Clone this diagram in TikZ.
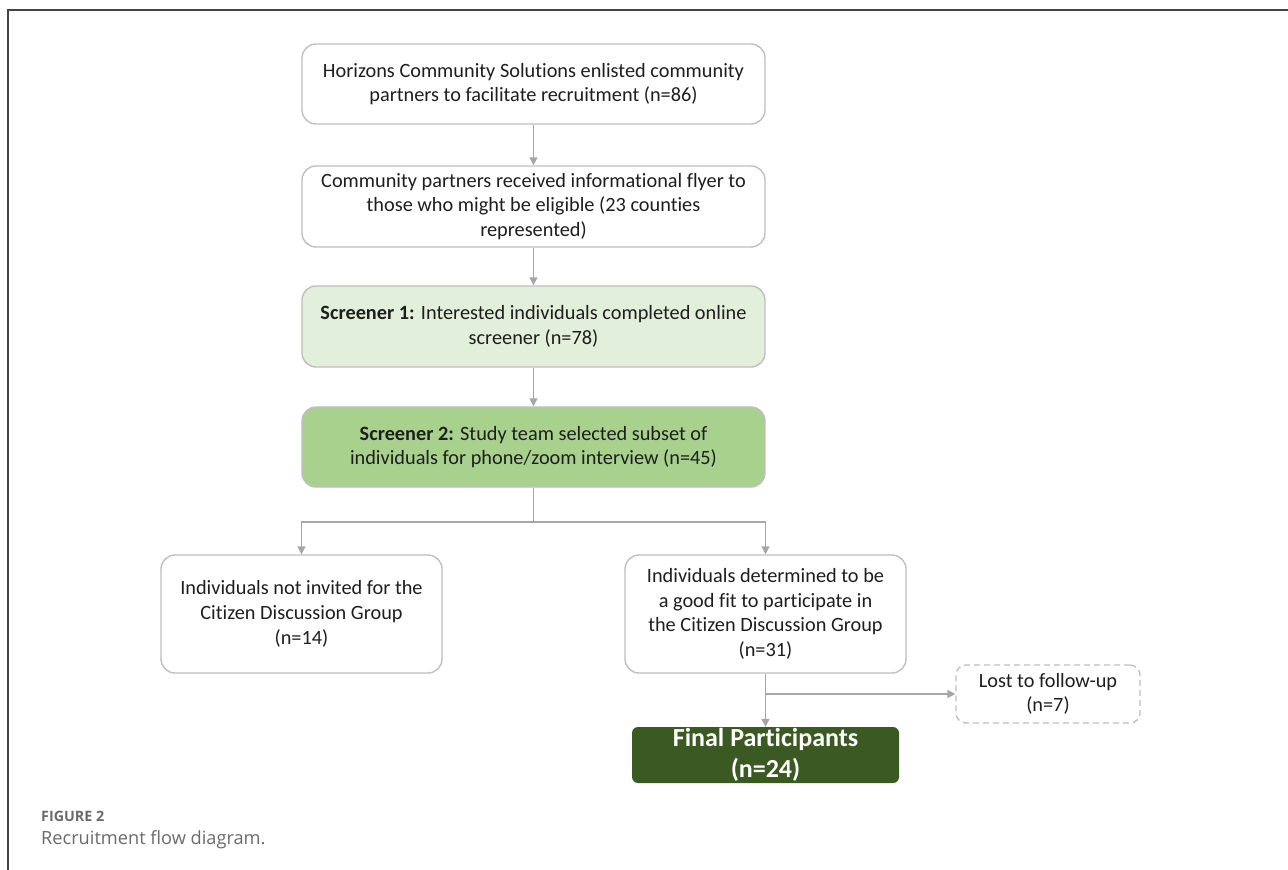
\documentclass[tikz,border=0pt]{standalone}
\usepackage{fontspec}
\setmainfont{Carlito}[Ligatures=NoCommon]
\newfontfamily\capfont{Open Sans}
\usetikzlibrary{arrows.meta}
\definecolor{boxline}{HTML}{BFBFBF}
\definecolor{arrowgray}{HTML}{A6A6A6}
\definecolor{lightgreen}{HTML}{E2EFDA}
\definecolor{midgreen}{HTML}{A9D18E}
\definecolor{darkgreen}{HTML}{3A5A22}
\definecolor{textdark}{HTML}{1E1E1E}
\definecolor{framegray}{HTML}{444444}
\definecolor{capgray}{HTML}{6A6A6A}
\tikzset{
  flowbox/.style={draw=boxline, line width=1.4pt, rounded corners=14pt, align=center,
    inner sep=0pt, text=textdark, font=\fontsize{20.3}{24.7}\selectfont},
  lostbox/.style={flowbox, dashed, dash pattern=on 6pt off 4pt, rounded corners=10pt},
  finalbox/.style={fill=darkgreen, draw=none, rounded corners=6pt, align=center, inner sep=0pt,
    text=white, font=\fontsize{26}{31}\selectfont\bfseries},
  flowarrow/.style={draw=arrowgray, line width=1.4pt, -{Triangle[width=8pt,length=8pt]}},
}
\begin{document}
\begin{tikzpicture}[x=1pt,y=-1pt]
\useasboundingbox (0,0) rectangle (1288,870);
% frame
\draw[framegray, line width=1.6pt] (1288,10) -- (8,10) -- (8,870);
% boxes
\node[flowbox, minimum width=463pt, minimum height=80pt] (b1) at (533.5,84)
  {Horizons Community Solutions enlisted community\\partners to facilitate recruitment (n=86)};
\node[flowbox, minimum width=463pt, minimum height=81pt] (b2) at (533.5,206.5)
  {Community partners received informational flyer to\\those who might be eligible (23 counties\\represented)};
\node[flowbox, fill=lightgreen, minimum width=463pt, minimum height=81pt] (b3) at (533.5,326.5)
  {\textbf{Screener 1:} Interested individuals completed online\\screener (n=78)};
\node[flowbox, fill=midgreen, minimum width=463pt, minimum height=80pt] (b4) at (533.5,447)
  {\textbf{Screener 2:} Study team selected subset of\\individuals for phone/zoom interview (n=45)};
\node[flowbox, minimum width=281pt, minimum height=118pt] (left) at (301.5,614)
  {Individuals not invited for the\\Citizen Discussion Group\\(n=14)};
\node[flowbox, minimum width=281pt, minimum height=118pt] (right) at (765.5,614)
  {Individuals determined to be\\a good fit to participate in\\the Citizen Discussion Group\\(n=31)};
\node[lostbox, minimum width=184pt, minimum height=58pt] (lost) at (1048,694)
  {Lost to follow-up\\(n=7)};
\node[finalbox, minimum width=267pt, minimum height=56pt] (final) at (765.5,755)
  {Final Participants\\(n=24)};
% connectors
\coordinate (split) at (533.5,522);
\coordinate (drop) at (765.5,694);
\draw[flowarrow] (b1.south) -- (b2.north);
\draw[flowarrow] (b2.south) -- (b3.north);
\draw[flowarrow] (b3.south) -- (b4.north);
\draw[draw=arrowgray, line width=1.4pt] (b4.south) -- (split);
\draw[flowarrow] (split) -| (left.north);
\draw[flowarrow] (split) -| (right.north);
\draw[flowarrow] (right.south) -- (final.north);
\draw[flowarrow] (drop) -- (lost.west);
% caption
\node[anchor=base west, inner sep=0pt, text=capgray, font=\capfont\fontsize{14.3}{16}\selectfont\bfseries] (figlabel) at (41,821) {FIGURE 2};
\node[anchor=base west, inner sep=0pt, text=capgray, font=\capfont\fontsize{18.2}{22}\selectfont] (figcaption) at (41,844) {Recruitment flow diagram.};
\end{tikzpicture}
\end{document}
